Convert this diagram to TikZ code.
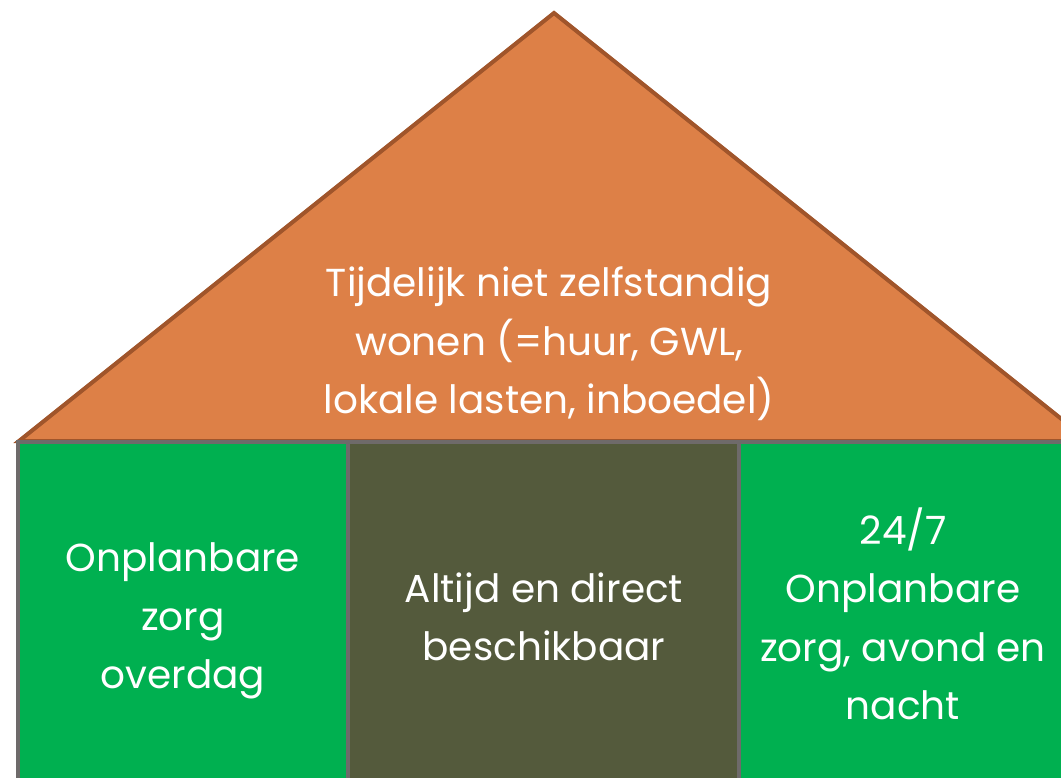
\documentclass[tikz,border=0pt]{standalone}
\usepackage{fontspec}
\setmainfont{Poppins}
\definecolor{roof}{HTML}{DD8047}
\definecolor{roofline}{HTML}{A0552B}
\definecolor{grn}{HTML}{00B050}
\definecolor{olive}{HTML}{545A3C}
\definecolor{wall}{HTML}{6E6A6A}
\begin{document}
\begin{tikzpicture}[x=1pt,y=-1pt,
  txt/.style={text=white,align=center,font=\fontsize{39}{58.5}\selectfont},
  box/.style={draw=wall,line width=4pt}]
\useasboundingbox (0,0) rectangle (1061,778);
\begin{scope}
\clip (0,0) rectangle (1061,778);
\fill[roof,draw=roofline,line width=4pt,line join=miter] (19,441) -- (554,13) -- (1089,441) -- cycle;
\filldraw[box,fill=grn] (18,442) rectangle (348,800);
\filldraw[box,fill=olive] (348,442) rectangle (739,800);
\filldraw[box,fill=grn] (739,442) rectangle (1100,800);
\end{scope}
\node[txt] (roofT) at (549,344) {Tijdelijk niet zelfstandig\\wonen (=huur, GWL,\\lokale lasten, inboedel)};
\node[txt] (left) at (183,621) {Onplanbare\\zorg\\overdag};
\node[txt] (mid) at (544,617) {Altijd en direct\\beschikbaar};
\node[txt] (right) at (903,614) {24/7\\Onplanbare\\zorg, avond en\\nacht};
\end{tikzpicture}
\end{document}
